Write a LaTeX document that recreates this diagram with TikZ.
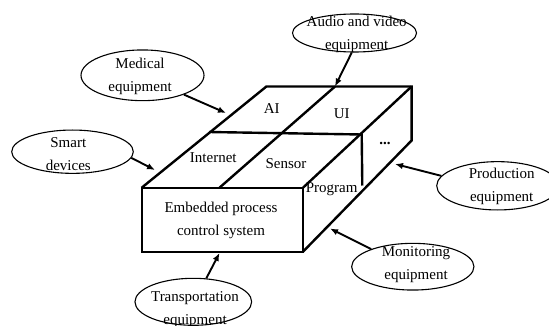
\documentclass[tikz,border=0pt]{standalone}
\usepackage{fontspec}
\setmainfont{Liberation Serif}
\usetikzlibrary{shapes.geometric,arrows.meta}

\begin{document}
\begin{tikzpicture}[x=1pt,y=-1pt,
  bubble/.style={ellipse,draw,line width=1.1pt,inner sep=0pt},
  caption/.style={align=center,font=\fontsize{15}{23}\selectfont,inner sep=0pt},
  feed/.style={line width=1.9pt,-{Latex[length=8pt,width=6.5pt]}},
  edge3d/.style={line width=2.4pt,line join=miter}]
\clip (0,0) rectangle (549,326);

% corners of the block
\coordinate (F1) at (141.7,187.7);
\coordinate (F2) at (303,187.7);
\coordinate (F3) at (303,251.7);
\coordinate (F4) at (141.7,251.7);
\coordinate (B1) at (266.4,86.5);
\coordinate (B2) at (411.6,86.5);
\coordinate (B3) at (411.6,140.5);
% dividing lines
\coordinate (M1) at (209,132);
\coordinate (M2) at (361.7,134.5);
\coordinate (D1) at (219.5,187.7);
\coordinate (D2) at (335,86.5);
\coordinate (V)  at (362.3,185.5);

% the block
\draw[edge3d] (F4) rectangle (F2);
\draw[edge3d] (F1) -- (B1) -- (B2) -- (B3) -- (F3);
\draw[edge3d] (F2) -- (B2);
\draw[edge3d] (M1) -- (M2) -- (V);
\draw[edge3d] (D1) -- (D2);

% cell labels
\node[caption] (ai) at (271.7,108.3) {AI};
\node[caption] (ui) at (341.7,113.3) {UI};
\node[caption] (net) at (213.3,157.3) {Internet};
\node[caption] (sen) at (286,163.3) {Sensor};
\node[caption] (prg) at (331.7,188.8) {Program};
\node[caption,anchor=base] (etc) at (385,145) {\textbf{...}};
\node[caption] (eps) at (221,220.7) {Embedded process\\control system};

% surrounding equipment
\node[bubble,minimum width=124pt,minimum height=38pt] (aud) at (354.5,33) {};
\node[caption] (aud-t) at (356.7,34.8) {Audio and video\\equipment};
\node[bubble,minimum width=123pt,minimum height=50.7pt] (med) at (142.5,75.3) {};
\node[caption] (med-t) at (140,76.3) {Medical\\equipment};
\node[bubble,minimum width=121.6pt,minimum height=43.3pt] (sma) at (72.5,151.7) {};
\node[caption] (sma-t) at (68.3,154.3) {Smart\\devices};
\node[bubble,minimum width=122pt,minimum height=48.3pt] (pro) at (497.7,185.8) {};
\node[caption] (pro-t) at (501.7,186.8) {Production\\equipment};
\node[bubble,minimum width=122.3pt,minimum height=46.7pt] (mon) at (412.8,266.7) {};
\node[caption] (mon-t) at (416,264.8) {Monitoring\\equipment};
\node[bubble,minimum width=116.7pt,minimum height=47pt] (tra) at (193.3,301.8) {};
\node[caption] (tra-t) at (195,309.3) {Transportation\\equipment};

% arrow tips on the block
\coordinate (tAud) at (335,86.5);
\coordinate (tMed) at (226,113);
\coordinate (tSma) at (155,170);
\coordinate (tPro) at (395,164);
\coordinate (tMon) at (330,228.5);
\coordinate (tTra) at (219.5,253);

\draw[feed] (aud.-98) -- (tAud);
\draw[feed] (med.-25) -- (tMed);
\draw[feed] (sma.-6) -- (tSma);
\draw[feed] (pro.170) -- (tPro);
\draw[feed] (mon.157) -- (tMon);
\draw[feed] (tra.61) -- (tTra);
\end{tikzpicture}
\end{document}
